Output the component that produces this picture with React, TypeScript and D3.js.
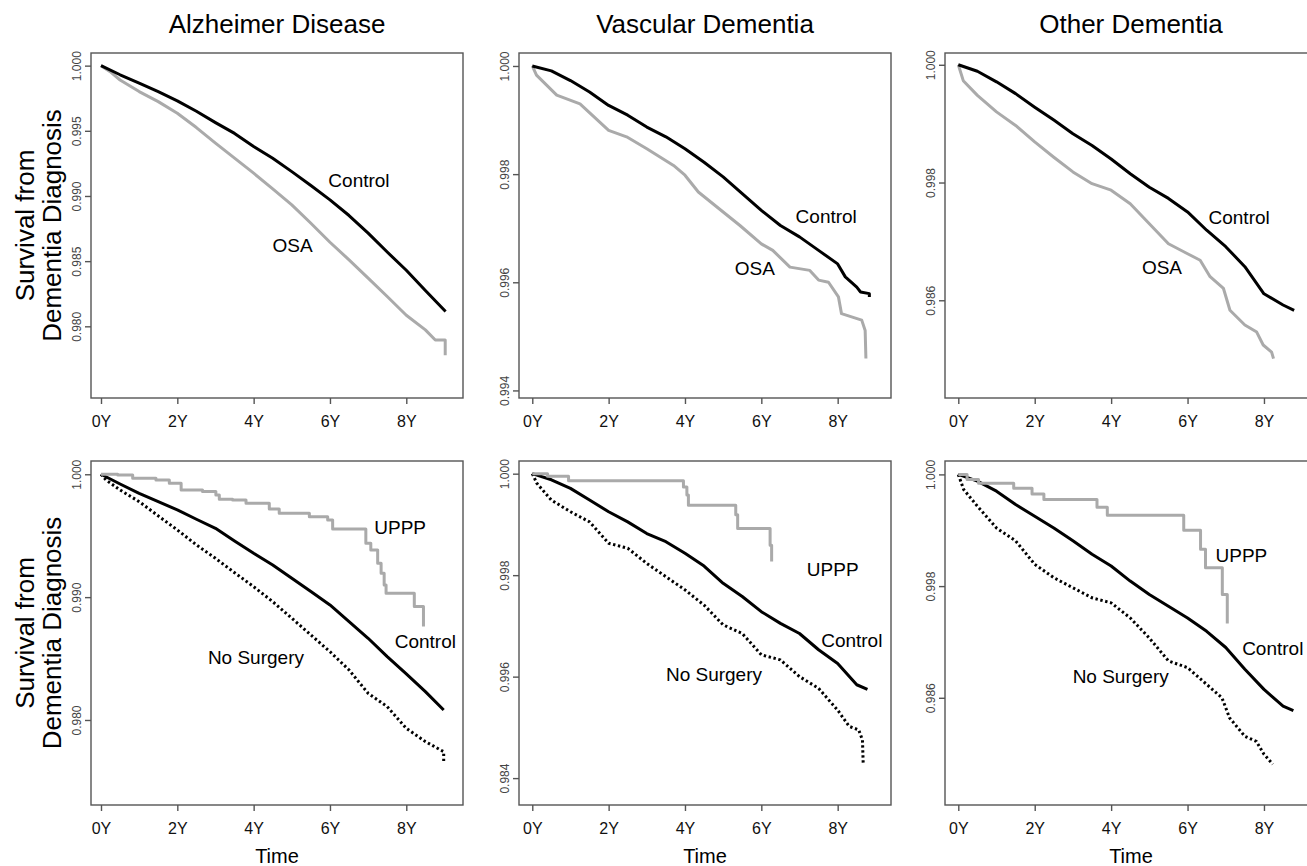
import React, { useEffect, useRef } from 'react';
import * as d3 from 'd3';

type Pt = [number, number];

const W = 1307;
const H = 866;
const FONT = '"Liberation Sans", Arial, Helvetica, sans-serif';

const diseases = ['Alzheimer Disease', 'Vascular Dementia', 'Other Dementia'];
const timeTicks = [0, 2, 4, 6, 8];
const yTitle = ['Survival from', 'Dementia Diagnosis'];

// y ticks as printed on the original (labels kept verbatim)
const adTopTicks = [1.0, 0.995, 0.99, 0.985, 0.98];
const adTopLabels = ['1.000', '0.995', '0.990', '0.985', '0.980'];
const vdTopTicks = [1.0, 0.998, 0.996, 0.994];
const vdTopLabels = ['1.000', '0.998', '0.996', '0.994'];
const odTopTicks = [1.0, 0.998, 0.996];
const odTopLabels = ['1.000', '0.998', '0.986'];
const adBotTicks = [1.0, 0.99, 0.98];
const adBotLabels = ['1.000', '0.990', '0.980'];
const vdBotTicks = [1.0, 0.998, 0.996, 0.994];
const vdBotLabels = ['1.000', '0.998', '0.996', '0.984'];
const odBotTicks = [1.0, 0.998, 0.996];
const odBotLabels = ['1.000', '0.998', '0.986'];

// ---- top row: OSA vs control (time in years, survival) ----
const adControl: Pt[] = [[0, 1], [0.5, 0.9993], [1, 0.99865], [1.5, 0.998], [2, 0.9973], [2.5, 0.9965], [3, 0.99563], [3.5, 0.9948], [4, 0.9938], [4.5, 0.9929], [5, 0.99187], [5.5, 0.9908], [6, 0.9897], [6.5, 0.9885], [7, 0.98715], [7.5, 0.9857], [8, 0.9843], [8.5, 0.98275], [9.03, 0.98114]];
const adOSA: Pt[] = [[0, 1], [0.24, 0.99954], [0.5, 0.9989], [1, 0.99801], [1.5, 0.99724], [2, 0.99635], [2.5, 0.99525], [3, 0.99405], [3.5, 0.9929], [4, 0.99175], [4.5, 0.99055], [5, 0.98932], [5.5, 0.98791], [6, 0.98645], [6.5, 0.9851], [7, 0.9837], [7.5, 0.98229], [8, 0.98085], [8.5, 0.97973], [8.76, 0.97895], [9.02, 0.97895], [9.02, 0.97778]];
const vdControl: Pt[] = [[0, 1], [0.5, 0.99991], [1, 0.99973], [1.5, 0.99952], [2, 0.99927], [2.5, 0.99909], [3, 0.99887], [3.5, 0.99869], [4, 0.99847], [4.5, 0.99822], [5, 0.99795], [5.5, 0.99764], [6, 0.99733], [6.5, 0.99705], [7, 0.99684], [7.5, 0.99659], [8, 0.99634], [8.2, 0.9961], [8.5, 0.99591], [8.6, 0.99582], [8.83, 0.99579], [8.83, 0.99573]];
const vdOSA: Pt[] = [[0, 1], [0.11, 0.99983], [0.64, 0.99946], [1.25, 0.9993], [2, 0.99881], [2.47, 0.99869], [3, 0.99847], [3.7, 0.99816], [4, 0.99798], [4.35, 0.99767], [5, 0.9973], [5.44, 0.99705], [6, 0.99671], [6.3, 0.99659], [6.75, 0.99628], [7.27, 0.99622], [7.5, 0.99604], [7.76, 0.996], [8.02, 0.99573], [8.1, 0.99542], [8.63, 0.9953], [8.72, 0.99511], [8.74, 0.99459]];
const odControl: Pt[] = [[0, 1], [0.5, 0.99989], [1, 0.99971], [1.5, 0.99951], [2, 0.99928], [2.5, 0.99906], [3, 0.99883], [3.5, 0.99863], [4, 0.9984], [4.5, 0.99815], [5, 0.99792], [5.5, 0.99773], [6, 0.9975], [6.5, 0.99719], [7, 0.99691], [7.5, 0.99657], [8, 0.99611], [8.5, 0.99592], [8.79, 0.99583]];
const odOSA: Pt[] = [[0, 1], [0.13, 0.99973], [0.5, 0.99948], [1, 0.9992], [1.5, 0.99897], [2, 0.99869], [2.5, 0.99843], [3, 0.99818], [3.5, 0.99798], [4, 0.99787], [4.5, 0.99764], [5, 0.9973], [5.5, 0.99696], [6, 0.99679], [6.33, 0.99668], [6.59, 0.9964], [6.94, 0.9962], [7.11, 0.99583], [7.5, 0.99558], [7.81, 0.99546], [7.98, 0.99524], [8.2, 0.99512], [8.25, 0.99501]];

// ---- bottom row: UPPP vs no surgery vs control ----
const adControl2: Pt[] = [[0, 1], [0.5, 0.99921], [1, 0.99845], [1.5, 0.99777], [2, 0.9971], [2.5, 0.99634], [3, 0.9956], [3.5, 0.99457], [4, 0.99357], [4.5, 0.99262], [5, 0.99153], [5.5, 0.99045], [6, 0.98936], [6.5, 0.98801], [7, 0.98665], [7.5, 0.98516], [8, 0.98375], [8.5, 0.98231], [8.98, 0.98081]];
const adNoSurgery: Pt[] = [[0, 1], [0.13, 0.99954], [0.5, 0.99872], [1, 0.99777], [1.5, 0.99661], [2, 0.99547], [2.5, 0.99425], [3, 0.99316], [3.5, 0.99199], [4, 0.99085], [4.5, 0.98963], [5, 0.98828], [5.5, 0.98692], [6, 0.98556], [6.5, 0.98407], [7, 0.98217], [7.5, 0.98109], [8, 0.97932], [8.5, 0.97824], [8.98, 0.97742], [8.98, 0.97647]];
const adUPPP: Pt[] = [[0, 1], [0.44, 0.99995], [0.83, 0.99967], [1.44, 0.99954], [1.79, 0.99927], [2.1, 0.99872], [2.66, 0.99859], [3.01, 0.99832], [3.1, 0.99796], [3.45, 0.99791], [3.8, 0.99764], [4.41, 0.99718], [4.67, 0.99682], [5.46, 0.99655], [5.94, 0.99628], [6.07, 0.99555], [6.94, 0.99438], [7.07, 0.99384], [7.25, 0.99275], [7.34, 0.99194], [7.42, 0.99099], [7.47, 0.99031], [8.21, 0.98923], [8.45, 0.9876]];
const vdControl2: Pt[] = [[0, 1], [0.5, 0.99988], [1, 0.99971], [1.5, 0.99948], [2, 0.99925], [2.5, 0.99905], [3, 0.99882], [3.5, 0.99866], [4, 0.99843], [4.5, 0.99818], [5, 0.99784], [5.5, 0.99758], [6, 0.99728], [6.5, 0.99705], [7, 0.99685], [7.5, 0.99653], [8, 0.99626], [8.5, 0.99584], [8.78, 0.99575]];
const vdNoSurgery: Pt[] = [[0, 1], [0.12, 0.99981], [0.5, 0.99948], [1, 0.99925], [1.5, 0.99905], [2, 0.99863], [2.5, 0.99853], [3, 0.99823], [3.5, 0.99797], [4, 0.99771], [4.5, 0.99741], [5, 0.99702], [5.5, 0.99685], [6, 0.99643], [6.5, 0.99633], [7, 0.996], [7.5, 0.99577], [8, 0.99534], [8.3, 0.99502], [8.55, 0.99495], [8.65, 0.99475], [8.67, 0.99426]];
const vdUPPP: Pt[] = [[0, 1], [0.4, 0.99995], [0.95, 0.99986], [3.96, 0.99974], [4.05, 0.99958], [4.09, 0.99938], [5.33, 0.99919], [5.38, 0.99892], [6.23, 0.99859], [6.27, 0.99827]];
const odControl2: Pt[] = [[0, 1], [0.5, 0.99988], [1, 0.9997], [1.5, 0.99946], [2, 0.99925], [2.5, 0.99904], [3, 0.99881], [3.5, 0.99857], [4, 0.99836], [4.5, 0.99809], [5, 0.99785], [5.5, 0.99764], [6, 0.99743], [6.5, 0.99719], [7, 0.9969], [7.5, 0.99651], [8, 0.99615], [8.5, 0.99585], [8.77, 0.99577]];
const odNoSurgery: Pt[] = [[0, 1], [0.14, 0.99973], [0.5, 0.99943], [1, 0.99904], [1.5, 0.99881], [2, 0.99839], [2.5, 0.99815], [3, 0.99797], [3.5, 0.99779], [4, 0.9977], [4.5, 0.99743], [5, 0.99707], [5.5, 0.99666], [6, 0.99654], [6.5, 0.99624], [6.9, 0.996], [7.1, 0.99564], [7.5, 0.99531], [7.8, 0.99522], [8, 0.99499], [8.23, 0.99481]];
const odUPPP: Pt[] = [[0, 1], [0.23, 0.99991], [0.53, 0.99984], [1.45, 0.99975], [1.93, 0.99965], [2.24, 0.99955], [3.63, 0.99941], [3.9, 0.99927], [5.9, 0.999], [6.34, 0.99866], [6.47, 0.99833], [6.91, 0.99785], [7.04, 0.99733]];

// layout
const colBox = [[91, 463], [519, 891], [945, 1317]];
const rowBox = [[53, 398], [461, 805]];
const colTime = [[-0.262, 9.486], [-0.348, 9.397], [-0.348, 9.388]];

const style: Record<string, { stroke: string; dash?: string; step?: boolean }> = {
  control: { stroke: '#000' },
  osa: { stroke: '#aaa' },
  uppp: { stroke: '#aaa', step: true },
  none: { stroke: '#000', dash: '2.4,2.6' },
};

const panels = [
  { row: 0, col: 0, yDomain: [0.9745, 1.00097], ticks: adTopTicks, labels: adTopLabels,
    series: [{ kind: 'osa', data: adOSA }, { kind: 'control', data: adControl }],
    notes: [{ text: 'Control', at: [6.76, 0.99123] }, { text: 'OSA', at: [5.02, 0.9862] }] },
  { row: 0, col: 1, yDomain: [0.99386, 1.00024], ticks: vdTopTicks, labels: vdTopLabels,
    series: [{ kind: 'osa', data: vdOSA }, { kind: 'control', data: vdControl }],
    notes: [{ text: 'Control', at: [7.7, 0.997225] }, { text: 'OSA', at: [5.83, 0.99627] }] },
  { row: 0, col: 2, yDomain: [0.99434, 1.0002], ticks: odTopTicks, labels: odTopLabels,
    series: [{ kind: 'osa', data: odOSA }, { kind: 'control', data: odControl }],
    notes: [{ text: 'Control', at: [7.35, 0.99742] }, { text: 'OSA', at: [5.33, 0.99656] }] },
  { row: 1, col: 0, yDomain: [0.97308, 1.00108], ticks: adBotTicks, labels: adBotLabels,
    series: [{ kind: 'control', data: adControl2 }, { kind: 'none', data: adNoSurgery }, { kind: 'uppp', data: adUPPP }],
    notes: [{ text: 'UPPP', at: [7.84, 0.99571] }, { text: 'Control', at: [8.5, 0.98645] }, { text: 'No Surgery', at: [4.06, 0.9851] }] },
  { row: 1, col: 1, yDomain: [0.99347, 1.00025], ticks: vdBotTicks, labels: vdBotLabels,
    series: [{ kind: 'control', data: vdControl2 }, { kind: 'none', data: vdNoSurgery }, { kind: 'uppp', data: vdUPPP }],
    notes: [{ text: 'UPPP', at: [7.87, 0.99812] }, { text: 'Control', at: [8.37, 0.99672] }, { text: 'No Surgery', at: [4.76, 0.99605] }] },
  { row: 1, col: 2, yDomain: [0.99408, 1.00024], ticks: odBotTicks, labels: odBotLabels,
    series: [{ kind: 'control', data: odControl2 }, { kind: 'none', data: odNoSurgery }, { kind: 'uppp', data: odUPPP }],
    notes: [{ text: 'UPPP', at: [7.41, 0.998555] }, { text: 'Control', at: [8.23, 0.99689] }, { text: 'No Surgery', at: [4.25, 0.99639] }] },
];

export default function App() {
  const ref = useRef<SVGSVGElement>(null);

  useEffect(() => {
    const svg = d3.select(ref.current);
    svg.selectAll('*').remove();
    svg.attr('font-family', FONT);

    // column titles
    diseases.forEach((name, c) => {
      svg.append('text')
        .attr('x', (colBox[c][0] + colBox[c][1]) / 2)
        .attr('y', 33)
        .attr('text-anchor', 'middle')
        .attr('font-size', 26)
        .attr('fill', '#000')
        .text(name);
    });

    // y titles, one per row
    rowBox.forEach(([t, b]) => {
      const cy = (t + b) / 2;
      yTitle.forEach((line, i) => {
        svg.append('text')
          .attr('transform', `translate(${34 + i * 27},${cy}) rotate(-90)`)
          .attr('text-anchor', 'middle')
          .attr('font-size', 26)
          .attr('fill', '#000')
          .text(line);
      });
    });

    // x titles under the bottom row
    colBox.forEach(([l, r]) => {
      svg.append('text')
        .attr('x', (l + r) / 2)
        .attr('y', 863)
        .attr('text-anchor', 'middle')
        .attr('font-size', 20)
        .attr('fill', '#000')
        .text('Time');
    });

    panels.forEach(p => {
      const [x0, x1] = colBox[p.col];
      const [y0, y1] = rowBox[p.row];
      const x = d3.scaleLinear().domain(colTime[p.col]).range([x0, x1]);
      const y = d3.scaleLinear().domain(p.yDomain).range([y1, y0]);
      const g = svg.append('g');

      const xa = g.append('g')
        .attr('transform', `translate(0,${y1})`)
        .call(d3.axisBottom(x).tickValues(timeTicks).tickFormat(d => `${d}Y`).tickSize(6).tickSizeOuter(0));
      xa.select('.domain').remove();
      xa.attr('font-size', 16).attr('font-family', FONT);
      xa.selectAll('line').attr('stroke', '#555').attr('stroke-width', 1.4);
      xa.selectAll('text').attr('y', 29).attr('dy', null).attr('fill', '#111');

      const ya = g.append('g')
        .attr('transform', `translate(${x0},0)`)
        .call(d3.axisLeft(y).tickValues(p.ticks).tickFormat((d, i) => p.labels[i]).tickSize(6).tickSizeOuter(0));
      ya.select('.domain').remove();
      ya.attr('font-size', 12).attr('font-family', FONT);
      ya.selectAll('line').attr('stroke', '#555').attr('stroke-width', 1.4);
      ya.selectAll('text')
        .attr('transform', 'rotate(-90)')
        .attr('x', 0)
        .attr('y', -10)
        .attr('dy', null)
        .attr('text-anchor', 'middle')
        .attr('fill', '#444');

      g.append('rect')
        .attr('x', x0).attr('y', y0)
        .attr('width', x1 - x0).attr('height', y1 - y0)
        .attr('fill', 'none').attr('stroke', '#555').attr('stroke-width', 1.4);

      p.series.forEach(s => {
        const st = style[s.kind];
        const line = d3.line<Pt>()
          .x(d => x(d[0]))
          .y(d => y(d[1]))
          .curve(st.step ? d3.curveStepAfter : d3.curveLinear);
        g.append('path')
          .attr('d', line(s.data as Pt[]))
          .attr('fill', 'none')
          .attr('stroke', st.stroke)
          .attr('stroke-width', 3)
          .attr('stroke-linejoin', 'round')
          .attr('stroke-dasharray', st.dash || null);
      });

      p.notes.forEach(n => {
        g.append('text')
          .attr('x', x(n.at[0]))
          .attr('y', y(n.at[1]))
          .attr('dy', '0.36em')
          .attr('text-anchor', 'middle')
          .attr('font-size', 19)
          .attr('fill', '#000')
          .text(n.text);
      });
    });
  }, []);

  return (
    <svg
      ref={ref}
      width={W}
      height={H}
      style={{ position: 'absolute', left: 0, top: 0, background: '#fff' }}
    />
  );
}
